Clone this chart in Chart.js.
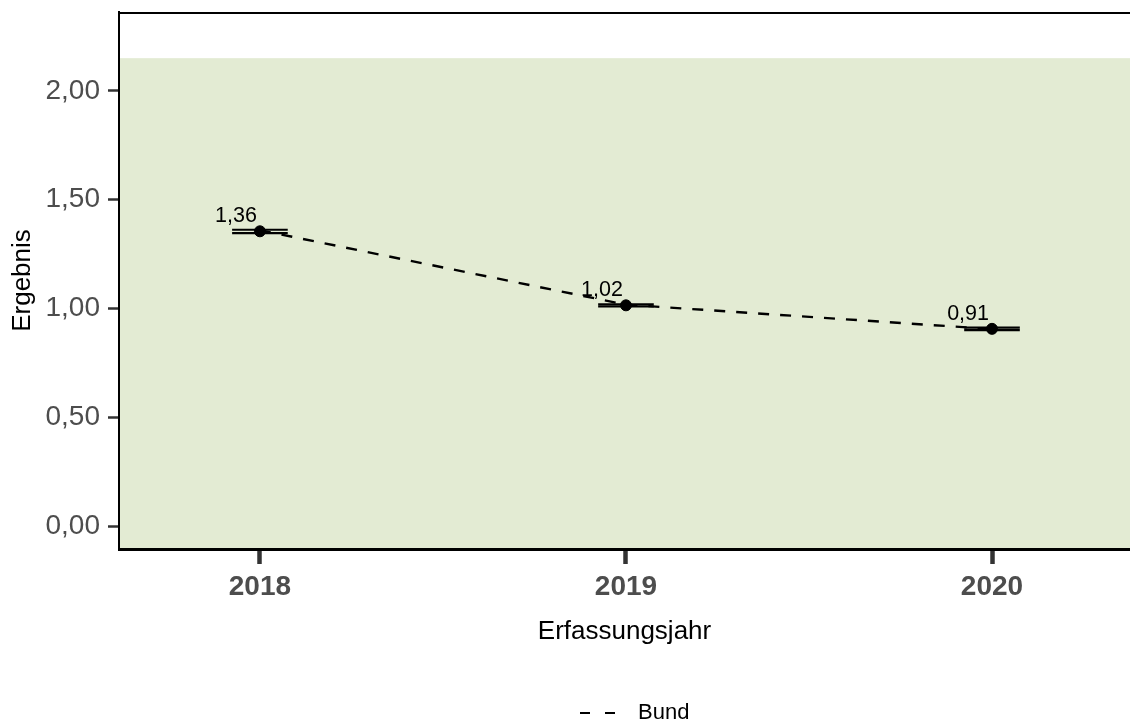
<!DOCTYPE html>
<html>
<head>
<meta charset="utf-8">
<script src="https://cdn.jsdelivr.net/npm/chart.js@4.4.1/dist/chart.umd.min.js"></script>
<style>
  body { margin: 0; background: #fff; overflow: hidden; }
  canvas { display: block; }
</style>
</head>
<body>
<canvas id="resultChart" width="1130" height="724"></canvas>
<script>
// values
const years = [2018, 2019, 2020];
const bundValues = [1.36, 1.018, 0.906];
const hospitalValues = [1.355, 1.015, 0.907];
const ciLower = [1.347, 1.010, 0.901];
const ciUpper = [1.362, 1.020, 0.913];
const yTicks = [0, 0.5, 1, 1.5, 2];
const referenceTop = 2.15;   // green band goes from the bottom up to here
const legendLabel = 'Bund';

const FONT = "'Liberation Sans', Arial, Helvetica, sans-serif";
const fmt = v => v.toFixed(2).replace('.', ',');

// green background + top frame line
const backgroundPlugin = {
  id: 'background',
  beforeDraw(chart) {
    const {ctx, chartArea, scales} = chart;
    ctx.save();
    ctx.fillStyle = '#fff';
    ctx.fillRect(0, 0, chart.width, chart.height);
    const top = scales.y.getPixelForValue(referenceTop);
    ctx.fillStyle = '#e3ebd3';
    ctx.fillRect(chartArea.left, top, chartArea.right - chartArea.left, chartArea.bottom - top);
    ctx.restore();
  },
  beforeDatasetsDraw(chart) {
    const {ctx, chartArea} = chart;
    ctx.save();
    ctx.strokeStyle = '#000';
    ctx.lineWidth = 2;
    ctx.beginPath();
    ctx.moveTo(chartArea.left - 1, chartArea.top + 1);
    ctx.lineTo(chartArea.right, chartArea.top + 1);
    ctx.stroke();
    ctx.restore();
  }
};

// confidence interval caps, drawn after the dashed line and before the points
const errorBarPlugin = {
  id: 'errorBars',
  afterDatasetDraw(chart, args) {
    if (args.index !== 1) return;
    const {ctx, scales: {x, y}} = chart;
    ctx.save();
    ctx.strokeStyle = '#000';
    ctx.lineWidth = 2.2;
    years.forEach((yr, i) => {
      const x1 = x.getPixelForValue(yr - 0.076);
      const x2 = x.getPixelForValue(yr + 0.076);
      [ciLower[i], ciUpper[i]].forEach(v => {
        const py = y.getPixelForValue(v);
        ctx.beginPath();
        ctx.moveTo(x1, py);
        ctx.lineTo(x2, py);
        ctx.stroke();
      });
    });
    ctx.restore();
  }
};

// value labels + legend
const labelPlugin = {
  id: 'labels',
  afterDatasetsDraw(chart) {
    const {ctx, scales: {x, y}} = chart;
    ctx.save();
    ctx.fillStyle = '#000';
    ctx.font = '21.5px ' + FONT;
    ctx.textAlign = 'right';
    ctx.textBaseline = 'alphabetic';
    years.forEach((yr, i) => {
      ctx.fillText(fmt(bundValues[i]), x.getPixelForValue(yr) - 3, y.getPixelForValue(hospitalValues[i]) - 9);
    });

    // legend
    const ly = 713;
    ctx.strokeStyle = '#000';
    ctx.lineWidth = 2.2;
    ctx.setLineDash([10, 15]);
    ctx.beginPath();
    ctx.moveTo(580, ly);
    ctx.lineTo(615, ly);
    ctx.stroke();
    ctx.setLineDash([]);
    ctx.font = '22px ' + FONT;
    ctx.textAlign = 'left';
    ctx.textBaseline = 'middle';
    ctx.fillText(legendLabel, 638, ly);
    ctx.restore();
  }
};

const ctx = document.getElementById('resultChart').getContext('2d');
const resultChart = new Chart(ctx, {
  type: 'line',
  data: {
    datasets: [{
      label: 'Ergebnis',
      data: years.map((yr, i) => ({x: yr, y: hospitalValues[i]})),
      showLine: false,
      pointRadius: 5.5,
      pointBackgroundColor: '#000',
      pointBorderColor: '#000',
      pointBorderWidth: 1
    }, {
      label: legendLabel,
      data: years.map((yr, i) => ({x: yr, y: bundValues[i]})),
      borderColor: '#000',
      borderWidth: 2.4,
      borderDash: [11, 11],
      pointRadius: 0,
      fill: false,
      tension: 0
    }]
  },
  options: {
    responsive: false,
    animation: false,
    devicePixelRatio: 1,
    layout: { autoPadding: false, padding: { top: 12, right: 0, bottom: 0, left: 0 } },
    plugins: {
      legend: { display: false },
      tooltip: { enabled: false }
    },
    scales: {
      x: {
        type: 'linear',
        min: 2017.615,
        max: 2020.377,
        afterBuildTicks: scale => { scale.ticks = years.map(v => ({value: v})); },
        afterFit: scale => {
          scale.height = 175;
          scale.paddingLeft = 0;
          scale.paddingRight = 0;
        },
        ticks: {
          color: '#4d4d4d',
          padding: 6,
          font: { family: FONT, size: 28, weight: 'bold' },
          callback: v => String(v)
        },
        grid: {
          display: true,
          drawOnChartArea: false,
          drawTicks: true,
          tickLength: 15,
          tickWidth: 4.5,
          tickColor: '#333'
        },
        border: { display: true, color: '#000', width: 3 },
        title: {
          display: true,
          text: 'Erfassungsjahr',
          color: '#000',
          font: { family: FONT, size: 26, lineHeight: 1 },
          padding: { top: 0, bottom: 79 }
        }
      },
      y: {
        min: -0.104,
        max: 2.362,
        afterBuildTicks: scale => { scale.ticks = yTicks.map(v => ({value: v})); },
        afterFit: scale => {
          scale.width = 119;
          scale.paddingTop = 0;
          scale.paddingBottom = 0;
        },
        ticks: {
          color: '#4d4d4d',
          padding: 8,
          font: { family: FONT, size: 28 },
          callback: v => fmt(v)
        },
        grid: {
          display: true,
          drawOnChartArea: false,
          drawTicks: true,
          tickLength: 11,
          tickWidth: 2.5,
          tickColor: '#333'
        },
        border: { display: true, color: '#000', width: 2 },
        title: {
          display: true,
          text: 'Ergebnis',
          color: '#000',
          font: { family: FONT, size: 26, lineHeight: 1 },
          padding: { top: 10, bottom: 0 }
        }
      }
    }
  },
  plugins: [backgroundPlugin, errorBarPlugin, labelPlugin]
});
</script>
</body>
</html>
